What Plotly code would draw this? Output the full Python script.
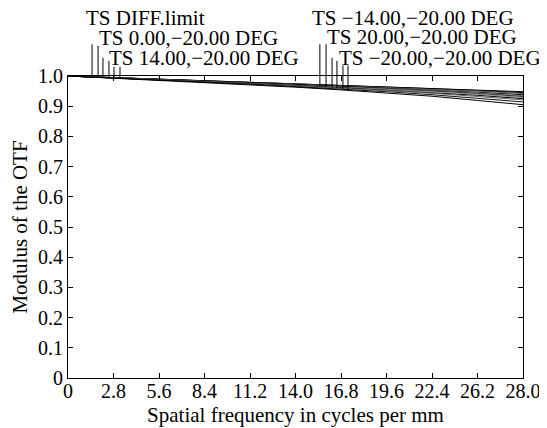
import numpy as np
import plotly.graph_objects as go

# ---- data ----
freq = [0, 2.8, 5.6, 8.4, 11.2, 14.0, 16.8, 19.6, 22.4, 25.2, 28.0]
x_tick_vals = [0, 2.8, 5.6, 8.4, 11.2, 14.0, 16.8, 19.6, 22.4, 25.2, 28.0]
x_tick_text = ["0", "2.8", "5.6", "8.4", "11.2", "14.0", "16.8", "19.6", "22.4", "26.2", "28.0"]
y_tick_vals = [0, 0.1, 0.2, 0.3, 0.4, 0.5, 0.6, 0.7, 0.8, 0.9, 1.0]
y_tick_text = ["0", "0.1", "0.2", "0.3", "0.4", "0.5", "0.6", "0.7", "0.8", "0.9", "1.0"]

diff_limit = [1.000, 0.995, 0.990, 0.985, 0.980, 0.975, 0.970, 0.965, 0.959, 0.954, 0.948]
f0_t   = [1.000, 0.995, 0.990, 0.984, 0.979, 0.974, 0.969, 0.963, 0.958, 0.952, 0.945]
f0_s   = [1.000, 0.995, 0.989, 0.984, 0.978, 0.973, 0.967, 0.962, 0.956, 0.950, 0.942]
f14_t  = [1.000, 0.995, 0.989, 0.983, 0.978, 0.972, 0.966, 0.960, 0.953, 0.946, 0.938]
f14_s  = [1.000, 0.994, 0.989, 0.983, 0.977, 0.971, 0.965, 0.958, 0.951, 0.944, 0.935]
fm14_t = [1.000, 0.994, 0.988, 0.982, 0.976, 0.970, 0.964, 0.957, 0.950, 0.942, 0.932]
fm14_s = [1.000, 0.994, 0.988, 0.982, 0.976, 0.969, 0.963, 0.956, 0.948, 0.940, 0.929]
f20_t  = [1.000, 0.994, 0.988, 0.981, 0.975, 0.968, 0.961, 0.953, 0.945, 0.936, 0.925]
f20_s  = [1.000, 0.994, 0.987, 0.981, 0.974, 0.967, 0.960, 0.952, 0.943, 0.933, 0.921]
fm20_t = [1.000, 0.994, 0.987, 0.980, 0.973, 0.965, 0.957, 0.948, 0.938, 0.927, 0.914]
fm20_s = [1.000, 0.993, 0.986, 0.979, 0.971, 0.963, 0.954, 0.944, 0.933, 0.919, 0.905]

series = [diff_limit, f0_t, f0_s, f14_t, f14_s, fm14_t, fm14_s, f20_t, f20_s, fm20_t, fm20_s]
series_colors = ["#000000", "#000000", "#555555", "#000000", "#777777", "#222222",
                 "#888888", "#000000", "#666666", "#111111", "#000000"]

label_texts = ["TS DIFF.limit", "TS 0.00,\u221220.00 DEG", "TS 14.00,\u221220.00 DEG",
               "TS \u221214.00,\u221220.00 DEG", "TS 20.00,\u221220.00 DEG", "TS \u221220.00,\u221220.00 DEG"]
label_x = [0.036, 0.064, 0.086, 0.532, 0.565, 0.591]      # paper
label_y = [1.191, 1.126, 1.060, 1.191, 1.129, 1.060]      # paper

# leader lines: frequency where they touch, index of curve, top (paper)
leader_freq = [1.48, 1.85, 2.15, 2.52, 2.83, 3.20, 15.5, 15.88, 16.25, 16.55, 16.92, 17.23]
leader_curve = [0, 0, 1, 2, 3, 4, 5, 6, 7, 8, 9, 10]
leader_top = [1.105, 1.100, 1.060, 1.050, 1.030, 1.030, 1.105, 1.105, 1.060, 1.050, 1.035, 1.035]

X_MAX = 28.0
FONT = "Liberation Serif, Times New Roman, serif"

fig = go.Figure()
for vals, col in zip(series, series_colors):
    fig.add_trace(go.Scatter(x=freq, y=vals, mode="lines",
                             line=dict(color=col, width=1), showlegend=False,
                             hoverinfo="skip"))

for txt, lx, ly in zip(label_texts, label_x, label_y):
    fig.add_annotation(text=txt, x=lx, y=ly, xref="paper", yref="paper",
                       xanchor="left", yanchor="middle", showarrow=False,
                       font=dict(family=FONT, size=21, color="black"))

for lf, ci, top in zip(leader_freq, leader_curve, leader_top):
    yv = float(np.interp(lf, freq, series[ci]))
    px = lf / X_MAX
    fig.add_shape(type="line", xref="paper", yref="paper",
                  x0=px, x1=px, y0=yv, y1=top,
                  line=dict(color="black", width=1))

# page body has an 8px margin, so the figure is sized/shifted to compensate
fig.update_layout(
    width=539, height=420,
    margin=dict(l=60, r=24, t=68, b=50),
    paper_bgcolor="white", plot_bgcolor="white",
    font=dict(family=FONT, size=20, color="black"),
    showlegend=False,
)
fig.update_xaxes(range=[0, X_MAX], tickvals=x_tick_vals, ticktext=x_tick_text,
                 showline=True, linecolor="black", linewidth=1, mirror="ticks",
                 ticks="inside", ticklen=5, tickcolor="black", showgrid=False,
                 zeroline=False, automargin=False, ticklabelstandoff=-5,
                 tickfont=dict(family=FONT, size=20),
                 title=dict(text="Spatial frequency in cycles per mm", standoff=6,
                            font=dict(family=FONT, size=21)))
fig.update_yaxes(range=[0, 1.0], tickvals=y_tick_vals, ticktext=y_tick_text,
                 showline=True, linecolor="black", linewidth=1, mirror="ticks",
                 ticks="inside", ticklen=5, tickcolor="black", showgrid=False,
                 zeroline=False, automargin=False,
                 tickfont=dict(family=FONT, size=20),
                 title=dict(text="Modulus of the OTF", standoff=9,
                            font=dict(family=FONT, size=21)))

fig.write_html("out.html")
